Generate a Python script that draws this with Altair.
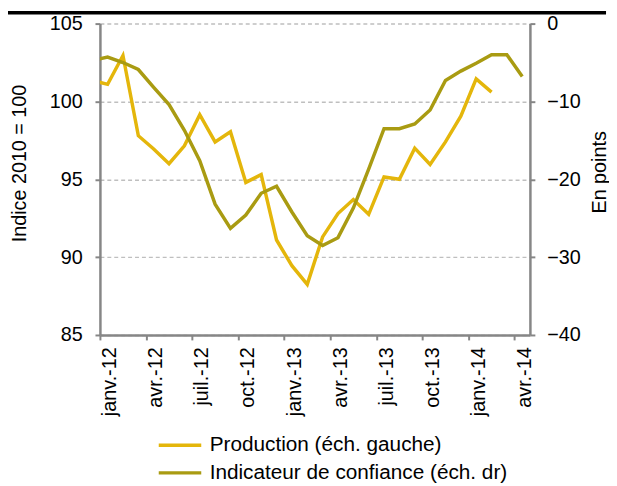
import json
import altair as alt
import pandas as pd

# Monthly data, Dec 2011 .. Apr 2014 (Dec 2011 only partly visible, clipped at the axis)
months = ["2011-12",
          "2012-01", "2012-02", "2012-03", "2012-04", "2012-05", "2012-06",
          "2012-07", "2012-08", "2012-09", "2012-10", "2012-11", "2012-12",
          "2013-01", "2013-02", "2013-03", "2013-04", "2013-05", "2013-06",
          "2013-07", "2013-08", "2013-09", "2013-10", "2013-11", "2013-12",
          "2014-01", "2014-02", "2014-03", "2014-04"]

production = [101.35,
              101.1, 102.95, 97.8, 96.95, 96.0, 97.15,
              99.15, 97.4, 98.05, 94.8, 95.3, 91.1,
              89.45, 88.25, 91.3, 92.8, 93.7, 92.75,
              95.15, 95.0, 97.0, 95.95, 97.4, 99.05,
              101.45, 100.6, None, None]

confidence = [-4.75,
              -4.3, -5.0, -5.9, -8.2, -10.4, -13.7,
              -17.6, -23.2, -26.3, -24.6, -21.8, -20.9,
              -24.2, -27.25, -28.5, -27.5, -23.7, -18.7,
              -13.5, -13.5, -12.9, -11.1, -7.3, -6.1,
              -5.1, -4.0, -4.0, -6.8]

x_tick_labels = ["janv.-12", "avr.-12", "juil.-12", "oct.-12",
                 "janv.-13", "avr.-13", "juil.-13", "oct.-13",
                 "janv.-14", "avr.-14"]

series_names = ["Production (éch. gauche)", "Indicateur de confiance (éch. dr)"]
colors = ["#E4B60B", "#A99B12"]

FONT = "Liberation Sans"

# month position: 0 = 1 Jan 2012, points in the middle of each month
df_prod = pd.DataFrame({
    "x": [i - 0.5 for i in range(len(months))],
    "value": production,
    "series": series_names[0],
}).dropna()
df_conf = pd.DataFrame({
    "x": [i - 0.5 for i in range(len(months))],
    "value": confidence,
    "series": series_names[1],
})

label_expr = json.dumps(x_tick_labels) + "[round(datum.value / 3)]"

x_enc = alt.X(
    "x:Q",
    scale=alt.Scale(domain=[0, 28], nice=False, zero=False),
    axis=alt.Axis(
        values=list(range(0, 28, 3)),
        labelExpr=label_expr,
        labelAngle=270,
        labelAlign="right",
        labelBaseline="top",
        labelPadding=7,
        grid=False,
        title=None,
    ),
)

color_enc = alt.Color(
    "series:N",
    scale=alt.Scale(domain=series_names, range=colors),
    legend=alt.Legend(
        title=None,
        orient="none",
        legendX=87,
        legendY=416,
        direction="vertical",
        symbolType="M-7.6,0H1",
        symbolSize=100,
        symbolStrokeWidth=3.5,
        labelFont=FONT,
        labelFontSize=21,
        labelColor="black",
        labelOffset=3,
        rowPadding=6,
        padding=0,
        labelLimit=500,
    ),
)

prod = alt.Chart(df_prod).mark_line(strokeWidth=3.5, clip=True).encode(
    x=x_enc,
    y=alt.Y(
        "value:Q",
        scale=alt.Scale(domain=[85, 105], nice=False, zero=False),
        axis=alt.Axis(
            orient="left",
            values=[85, 90, 95, 100, 105],
            grid=True,
            title="Indice 2010 = 100",
            titleAngle=270,
            titleX=-81,
            titleY=141,
            titleAlign="center",
            titleBaseline="middle",
            labelPadding=13,
        ),
    ),
    color=color_enc,
)

conf = alt.Chart(df_conf).mark_line(strokeWidth=3.5, clip=True).encode(
    x=x_enc,
    y=alt.Y(
        "value:Q",
        scale=alt.Scale(domain=[-40, 0], nice=False, zero=False),
        axis=alt.Axis(
            orient="right",
            values=[-40, -30, -20, -10, 0],
            grid=False,
            title="En points",
            titleAngle=270,
            titleX=70,
            titleY=150,
            titleAlign="center",
            titleBaseline="middle",
            labelPadding=12,
        ),
    ),
    color=color_enc,
)

bar = alt.Chart(pd.DataFrame({"a": [0]})).mark_rule(
    color="black", strokeWidth=3.5
).encode(
    x=alt.value(-93), x2=alt.value(512), y=alt.value(-11)
)

chart = (
    alt.layer(prod, conf, bar)
    .resolve_scale(y="independent")
    .properties(
        width=435,
        height=315,
        autosize=alt.AutoSizeParams(type="none"),
        padding={"left": 93, "top": 13, "right": 80, "bottom": 150},
    )
    .configure_view(stroke=None)
    .configure_axis(
        domainColor="#868686",
        domainWidth=2.5,
        tickColor="#868686",
        tickWidth=2,
        tickSize=5,
        labelColor="black",
        labelFont=FONT,
        labelFontSize=20,
        titleFont=FONT,
        titleFontSize=20,
        titleFontWeight="normal",
        titleColor="black",
        gridColor="#bfbfbf",
        gridDash=[4, 3],
        gridWidth=1.5,
    )
)

chart.save("out.html", embed_options={"renderer": "svg", "actions": False})
